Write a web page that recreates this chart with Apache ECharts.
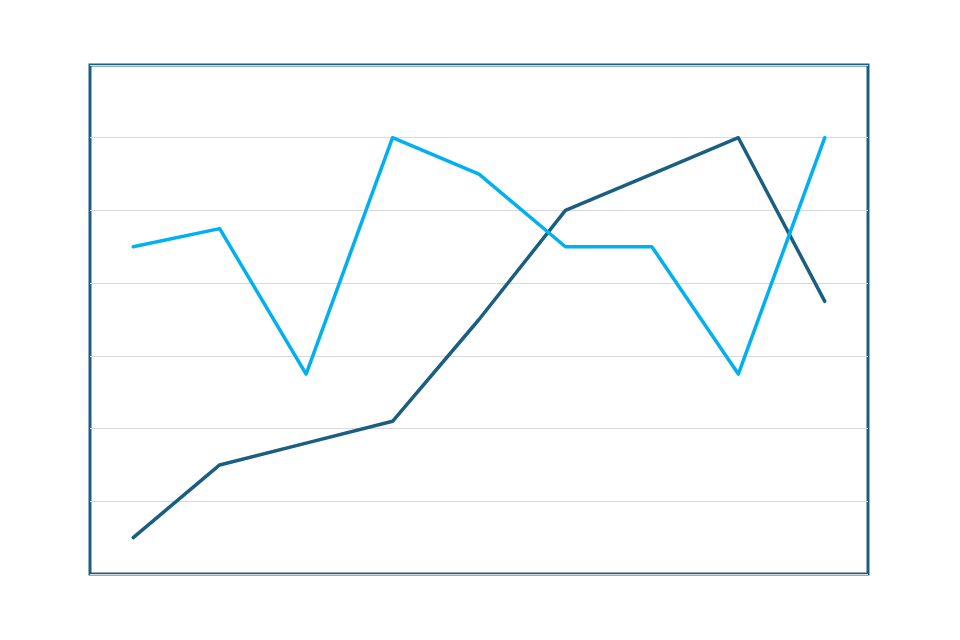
<!DOCTYPE html>
<html>
<head>
<meta charset="utf-8">
<script src="https://cdn.jsdelivr.net/npm/echarts@6/dist/echarts.min.js"></script>
<style>html,body{margin:0;padding:0;background:#fff;}#c{width:960px;height:640px;}</style>
</head>
<body>
<div id="c"></div>
<script>
const categories = ['1', '2', '3', '4', '5', '6', '7', '8', '9'];
const seriesLight = [4.5, 4.75, 2.75, 6, 5.5, 4.5, 4.5, 2.75, 6];
const seriesDark = [0.5, 1.5, 1.8, 2.1, 3.5, 5, 5.5, 6, 3.75];

const chart = echarts.init(document.getElementById('c'));
chart.setOption({
  animation: false,
  backgroundColor: '#ffffff',
  grid: {
    left: 90, right: 92, top: 65, bottom: 66,
    show: true, borderColor: '#1b5f80', borderWidth: 3, backgroundColor: 'transparent'
  },
  xAxis: {
    type: 'category', data: categories, boundaryGap: true,
    axisLine: { show: false }, axisTick: { show: false }, axisLabel: { show: false },
    splitLine: { show: false }
  },
  yAxis: {
    type: 'value', min: 0, max: 7, interval: 1,
    axisLine: { show: false }, axisTick: { show: false }, axisLabel: { show: false },
    splitLine: { show: true, lineStyle: { color: '#d9d9d9', width: 1 } }
  },
  series: [
    {
      type: 'line', data: seriesDark, symbol: 'none',
      lineStyle: { color: '#1b5f80', width: 3.5, cap: 'round', join: 'round' }, z: 2
    },
    {
      type: 'line', data: seriesLight, symbol: 'none',
      lineStyle: { color: '#00b0f0', width: 3.5, cap: 'round', join: 'round' }, z: 3
    }
  ]
});
</script>
</body>
</html>
